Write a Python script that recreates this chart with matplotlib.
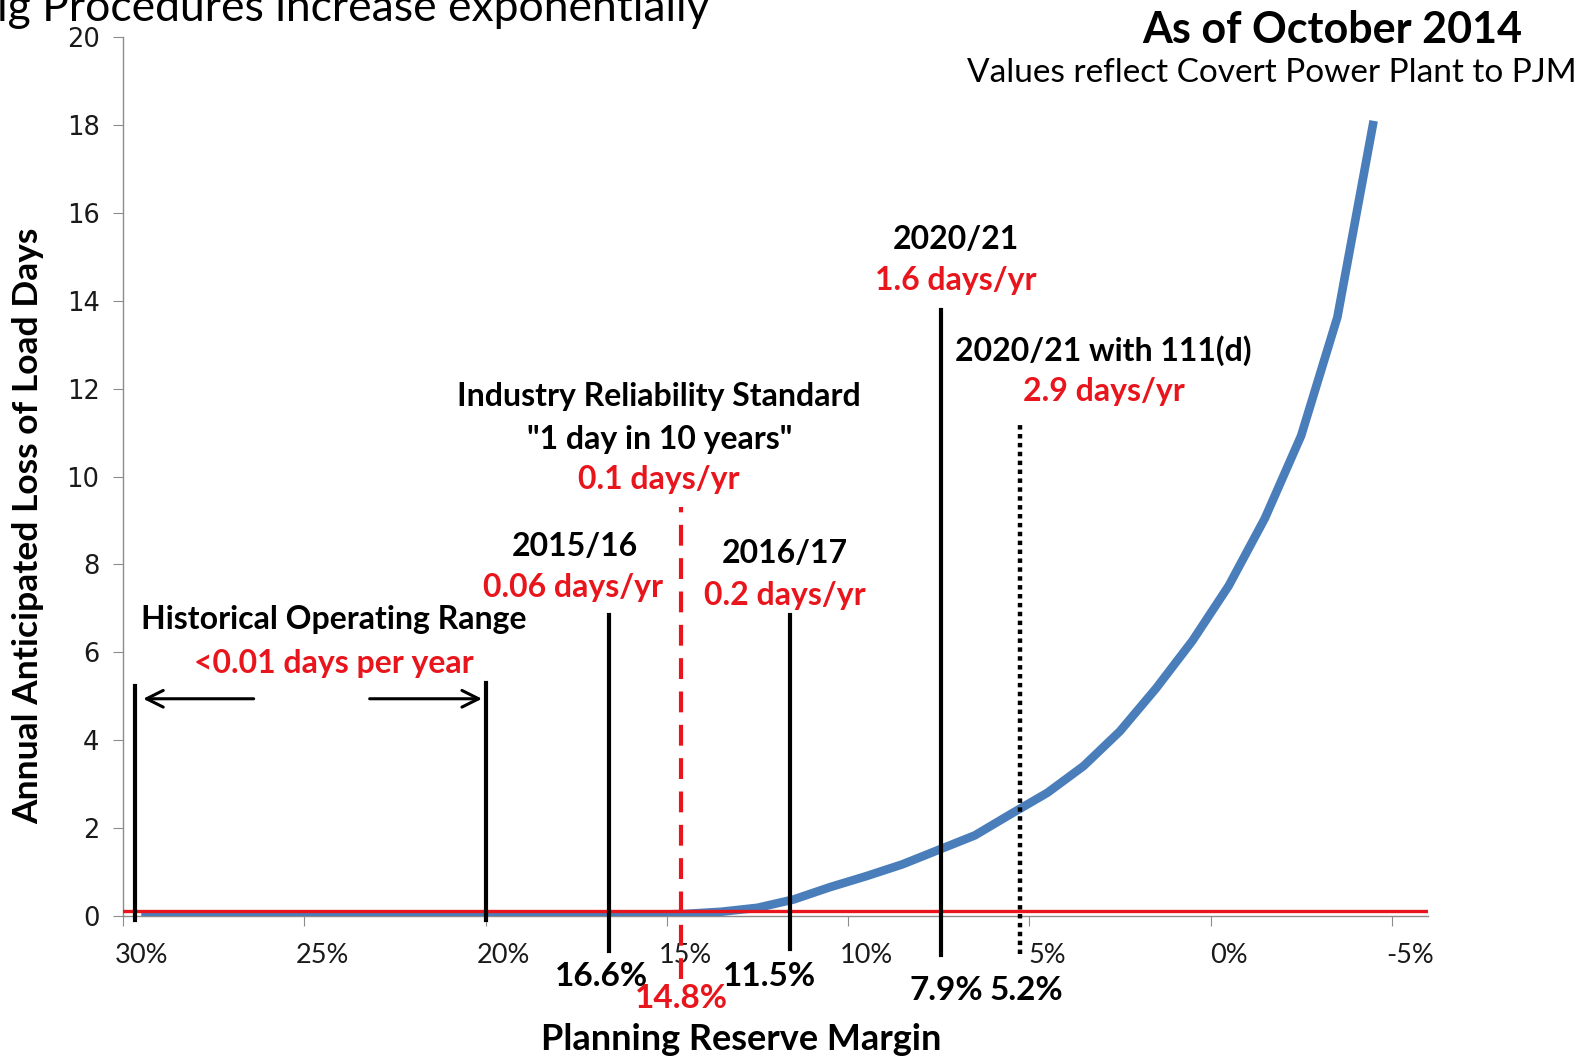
import matplotlib
matplotlib.use("Agg")
import matplotlib.pyplot as plt
from matplotlib.ticker import FixedLocator, NullFormatter, FixedFormatter

# ---------------- data ----------------
reserve_margin = [30, 29, 28, 27, 26, 25, 24, 23, 22, 21, 20, 19, 18, 17, 16, 15,
                  14, 13, 12, 11, 10, 9, 8, 7, 6, 5, 4, 3, 2, 1, 0, -1, -2, -3, -4]
lold_days = [0.0, 0.0, 0.0, 0.0, 0.0, 0.0, 0.0, 0.0, 0.0, 0.0, 0.0, 0.005, 0.01, 0.015,
             0.02, 0.04, 0.09, 0.18, 0.37, 0.65, 0.9, 1.17, 1.5, 1.83, 2.32, 2.8,
             3.41, 4.2, 5.18, 6.26, 7.51, 9.05, 10.93, 13.63, 18.1]
standard_days = 0.1

tick_label_values = [30, 25, 20, 15, 10, 5, 0, -5]
tick_labels = ["30%", "25%", "20%", "15%", "10%", "5%", "0%", "-5%"]
y_ticks = [0, 2, 4, 6, 8, 10, 12, 14, 16, 18, 20]

# marker lines: x position, bottom, top
hist_x = [30.17, 20.5]
hist_top = [5.22, 5.29]
year_x = [17.1, 12.09, 7.94]
year_top = [6.85, 6.85, 13.8]
year_bottom = [-0.8, -0.76, -0.9]
standard_x = 15.1
standard_top = 9.3
d111_x = 5.77
d111_top = 11.2

W, H = 1583, 1058
S = W / 1568.0

fig = plt.figure(figsize=(W / 100, H / 100), dpi=100)
ax = fig.add_axes([123.2 / W, 1 - 915.7 / H, (1428 - 123.2) / W, (915.7 - 37.4) / H])

BLUE = "#4A7EBB"
RED = "#E8161C"
GRAY = "#8C8C8C"
FONT = "Lato"

ax.set_xlim(30.5, -5.5)
ax.set_ylim(0, 20)

ax.plot(reserve_margin, lold_days, color=BLUE, lw=6.2, solid_capstyle="butt", zorder=3)
ax.axhline(standard_days, color=RED, lw=2.4, zorder=4)

for x, top in zip(hist_x, hist_top):
    ax.plot([x, x], [-0.1, top], color="black", lw=3, clip_on=False, zorder=5)
for x, top, bot in zip(year_x, year_top, year_bottom):
    ax.plot([x, x], [bot, top], color="black", lw=3, clip_on=False, zorder=5)
ax.plot([standard_x, standard_x], [-1.45, standard_top], color=RED, lw=3,
        dashes=(5, 3), clip_on=False, zorder=5)
ax.plot([d111_x, d111_x], [-0.87, d111_top], color="black", lw=3.2,
        dashes=(1, 1), clip_on=False, zorder=5)

# arrows of historical range
arrow_kw = dict(arrowstyle="->", lw=2.2, color="black", mutation_scale=30, shrinkA=0, shrinkB=0)
ax.annotate("", xy=(29.95, 4.94), xytext=(26.9, 4.94), arrowprops=arrow_kw)
ax.annotate("", xy=(20.6, 4.94), xytext=(23.7, 4.94), arrowprops=arrow_kw)

# axes styling
for s in ["top", "right"]:
    ax.spines[s].set_visible(False)
ax.spines["left"].set_color(GRAY)
ax.spines["bottom"].set_color(GRAY)
ax.spines["left"].set_linewidth(1)
ax.spines["bottom"].set_linewidth(1)

ax.xaxis.set_major_locator(FixedLocator([v + 0.5 for v in tick_label_values]))
ax.xaxis.set_major_formatter(NullFormatter())
ax.xaxis.set_minor_locator(FixedLocator(tick_label_values))
ax.xaxis.set_minor_formatter(FixedFormatter(tick_labels))
ax.tick_params(axis="x", which="major", direction="out", length=7, color=GRAY)
ax.tick_params(axis="x", which="minor", length=0, pad=20, labelsize=19.5)
for lab in ax.get_xticklabels(minor=True):
    lab.set_fontfamily(FONT)
    lab.set_color("#1a1a1a")

ax.set_yticks(y_ticks)
ax.tick_params(axis="y", direction="out", length=7, color=GRAY, labelsize=18.5, pad=10)
for lab in ax.get_yticklabels():
    lab.set_fontfamily("DejaVu Sans")
    lab.set_color("#1a1a1a")


def ftext(x, y, s, color="black", size=23, weight="bold", ha="center", va="center", **kw):
    fig.text(x * S / W, 1 - y * S / H, s, color=color, fontsize=size, fontweight=weight,
             ha=ha, va=va, fontfamily=FONT, **kw)


# annotations (positions in reference pixels)
ftext(331, 614, "Historical Operating Range")
ftext(331, 657, "<0.01 days per year", color=RED)
ftext(569, 541, "2015/16")
ftext(568, 582, "0.06 days/yr", color=RED)
ftext(653, 393, "Industry Reliability Standard")
ftext(653, 435, '"1 day in 10 years"')
ftext(653, 475, "0.1 days/yr", color=RED)
ftext(777, 548, "2016/17")
ftext(777, 590, "0.2 days/yr", color=RED)
ftext(947, 237, "2020/21")
ftext(947, 278, "1.6 days/yr", color=RED)
ftext(1093, 347, "2020/21 with 111(d)")
ftext(1093, 388, "2.9 days/yr", color=RED)

ftext(596, 967, "16.6%", size=24)
ftext(675, 989, "14.8%", color=RED, size=24)
ftext(762, 967, "11.5%", size=24)
ftext(937, 981, "7.9%", size=24)
ftext(1017, 981, "5.2%", size=24)

ftext(734, 1030, "Planning Reserve Margin", size=26)
ftext(28, 521, "Annual Anticipated Loss of Load Days", size=25.5, rotation=90)

ftext(1320, 30, "As of October 2014", size=31)
ftext(1260, 72, "Values reflect Covert Power Plant to PJM", size=24, weight="normal")
ftext(-3, 21, "ig Procedures increase exponentially", size=32, weight="normal",
      ha="left", va="baseline")

fig.savefig("out.png", dpi=100)
